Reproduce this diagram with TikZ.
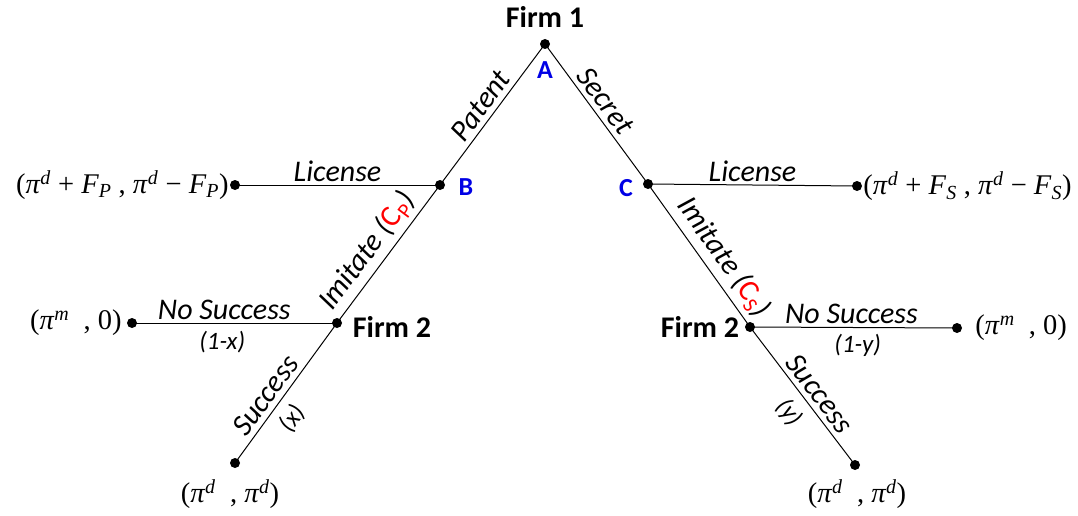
\documentclass[tikz,border=0pt]{standalone}
\usepackage{fontspec}
\setmainfont{Carlito}
\newfontfamily\tms{Liberation Serif}
\newcommand\piv{\textit{π}}
\newcommand\up[1]{\textsuperscript{\textit{#1}}}
\newcommand\dn[1]{\textsubscript{\textit{#1}}}
\newcommand\cost[1]{{\color{red}\textup{C}\textsubscript{\textup{#1}}}}
\tikzset{
  leaf/.style={circle, fill=black, inner sep=0pt, minimum size=10pt},
  branch/.style={line width=1pt},
  player/.style={font=\bfseries\fontsize{30}{33}\selectfont},
  tag/.style={font=\bfseries\fontsize{26}{29}\selectfont, text=blue!90!black},
  act/.style={font=\itshape\fontsize{30}{33}\selectfont, inner sep=5pt},
  prob/.style={font=\itshape\fontsize{25}{28}\selectfont, inner sep=9pt},
  payoff/.style={font=\tms\fontsize{28.5}{32}\selectfont, inner sep=1pt}
}
\begin{document}
\begin{tikzpicture}[x=1pt, y=-1pt]
\useasboundingbox (0,0) rectangle (1078,516);
% decision and terminal nodes
\node[leaf] (A)   at (545,44)  {};
\node[leaf] (B)   at (440,185) {};
\node[leaf] (C)   at (648,184) {};
\node[leaf] (LPL) at (235,185) {};
\node[leaf] (LPR) at (857,186) {};
\node[leaf] (FL)  at (337,323) {};
\node[leaf] (FR)  at (750,327) {};
\node[leaf] (NL)  at (132,323) {};
\node[leaf] (NR)  at (957,328) {};
\node[leaf] (SL)  at (235,463) {};
\node[leaf] (SR)  at (855,465) {};
% player and node labels
\node[player] (f1)  at (545,17)  {Firm 1};
\node[player] (f2l) at (392,327) {Firm 2};
\node[player] (f2r) at (700,327) {Firm 2};
\node[tag] (tA) at (545,70)  {A};
\node[tag] (tB) at (466,187) {B};
\node[tag] (tC) at (626,188) {C};
% branches
\draw[branch] (B.center) -- (A.center)
  node[act, pos=0.5, sloped, above] (lpat) {Patent};
\draw[branch] (A.center) -- (C.center)
  node[act, pos=0.47, sloped, above] (lsec) {Secret};
\draw[branch] (LPL.center) -- (B.center)
  node[act, midway, above, inner sep=3pt] (llicl) {License};
\draw[branch] (C.center) -- (LPR.center)
  node[act, midway, above, inner sep=3pt] (llicr) {License};
\draw[branch] (FL.center) -- (B.center)
  node[act, pos=0.44, sloped, above] (limpl) {Imitate (\cost{P})};
\draw[branch] (C.center) -- (FR.center)
  node[act, pos=0.59, sloped, above] (limpr) {Imitate (\cost{S})};
\draw[branch] (NL.center) -- (FL.center)
  node[act, pos=0.45, above, inner sep=3pt] (lnsl) {No Success}
  node[prob, pos=0.44, below, inner sep=8pt] (lpxl) {(1-x)};
\draw[branch] (FR.center) -- (NR.center)
  node[act, pos=0.49, above, inner sep=3pt] (lnsr) {No Success}
  node[prob, pos=0.52, below, inner sep=6pt] (lpyr) {(1-y)};
\draw[branch] (SL.center) -- (FL.center)
  node[act, pos=0.42, sloped, above] (lsucl) {Success}
  node[prob, pos=0.40, sloped, below] (lxl) {(x)};
\draw[branch] (FR.center) -- (SR.center)
  node[act, pos=0.55, sloped, above] (lsucr) {Success}
  node[prob, pos=0.53, sloped, below] (lyr) {(y)};
% payoffs
\node[payoff, anchor=east] (pLPL) at (LPL.west)
  {(\piv\up{d} + \textit{F}\dn{P} , \piv\up{d} − \textit{F}\dn{P})};
\node[payoff, anchor=west] (pLPR) at (LPR.east)
  {(\piv\up{d} + \textit{F}\dn{S} , \piv\up{d} − \textit{F}\dn{S})};
\node[payoff, anchor=east] (pNL) at ([xshift=-4pt]NL.west) {(\piv\up{m} \ , 0)};
\node[payoff, anchor=west] (pNR) at ([xshift=12pt]NR.east) {(\piv\up{m} \ , 0)};
\node[payoff] (pSL) at (230,494) {(\piv\up{d} \ , \piv\up{d})};
\node[payoff] (pSR) at (857,494) {(\piv\up{d} \ , \piv\up{d})};
\end{tikzpicture}
\end{document}
